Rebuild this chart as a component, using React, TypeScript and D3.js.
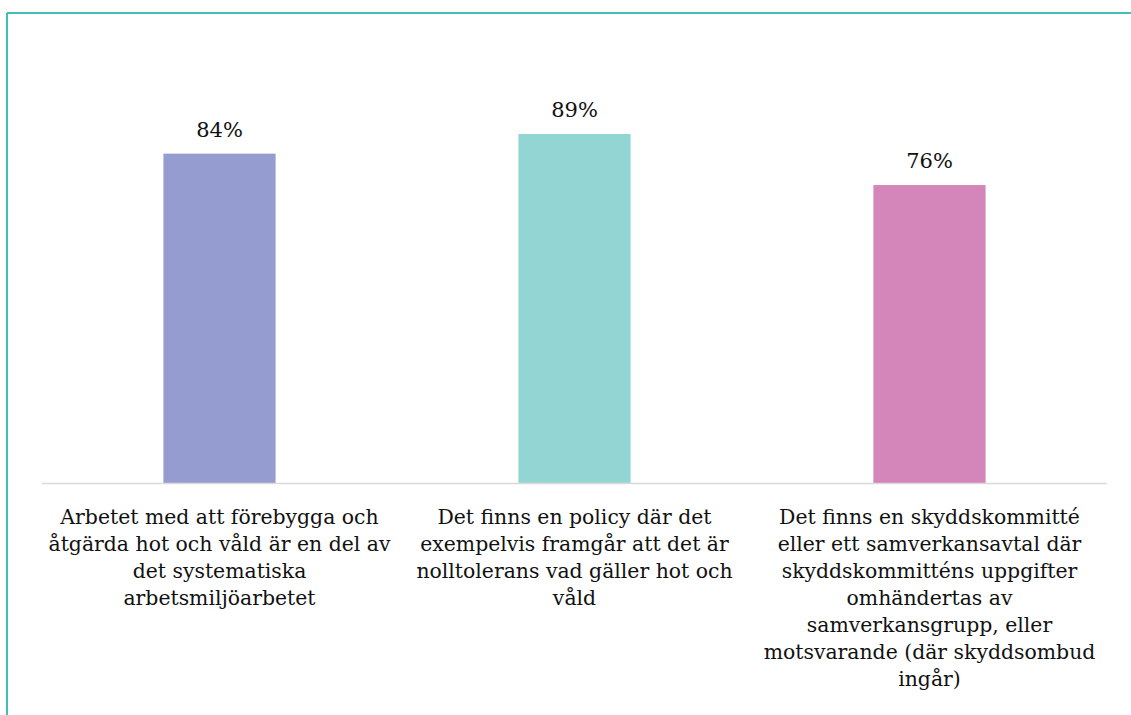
import React, { useMemo } from "react";
import * as d3 from "d3";

const categories: string[][] = [
  ["Arbetet med att förebygga och", "åtgärda hot och våld är en del av", "det systematiska", "arbetsmiljöarbetet"],
  ["Det finns en policy där det", "exempelvis framgår att det är", "nolltolerans vad gäller hot och", "våld"],
  [
    "Det finns en skyddskommitté",
    "eller ett samverkansavtal där",
    "skyddskommitténs uppgifter",
    "omhändertas av",
    "samverkansgrupp, eller",
    "motsvarande (där skyddsombud",
    "ingår)",
  ],
];
const values: number[] = [84, 89, 76];
const colors: string[] = ["#959dd0", "#92d5d3", "#d486bb"];

const W = 1131;
const H = 715;
const FONT = "Georgia, 'DejaVu Serif', serif";

export default function App() {
  const x = useMemo(
    () => d3.scaleBand<number>().domain(d3.range(values.length)).range([42, 1107]).paddingInner(0.684).paddingOuter(0.342),
    []
  );
  const y = useMemo(() => d3.scaleLinear().domain([0, 100]).range([483.5, 90.8]), []);
  const bw = x.bandwidth();

  return (
    <svg width={W} height={H} style={{ position: "absolute", left: 0, top: 0, background: "#fff" }}>
      <line x1={7} y1={13} x2={W} y2={13} stroke="#3fbfb7" strokeWidth={2} />
      <line x1={7} y1={13} x2={7} y2={H} stroke="#3fbfb7" strokeWidth={2} />
      {values.map((v, i) => (
        <g key={i}>
          <rect x={x(i)!} y={y(v)} width={bw} height={y(0) - y(v)} fill={colors[i]} />
          <text
            x={x(i)! + bw / 2}
            y={y(v) - 17}
            textAnchor="middle"
            fontFamily={FONT}
            fontSize={21}
            fill="#111"
          >
            {d3.format(".0f")(v)}%
          </text>
        </g>
      ))}
      <line x1={42} x2={1107} y1={y(0)} y2={y(0)} stroke="#d9d9d9" strokeWidth={1.3} />
      {categories.map((lines, i) => (
        <text
          key={i}
          x={x(i)! + bw / 2}
          textAnchor="middle"
          fontFamily={FONT}
          fontSize={20.4}
          fill="#111"
        >
          {lines.map((l, j) => (
            <tspan key={j} x={x(i)! + bw / 2} y={524 + j * 27}>
              {l}
            </tspan>
          ))}
        </text>
      ))}
    </svg>
  );
}
